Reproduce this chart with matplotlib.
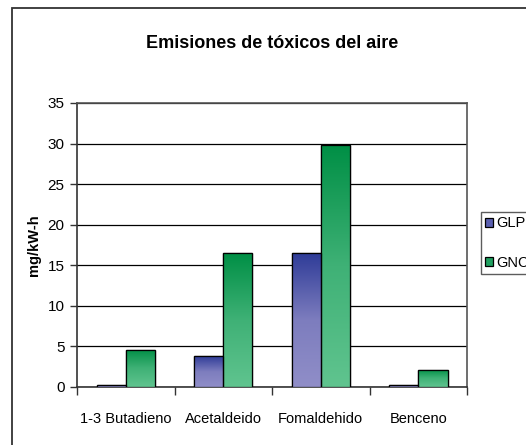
import numpy as np
import matplotlib
matplotlib.use("Agg")
import matplotlib.pyplot as plt
from matplotlib.colors import LinearSegmentedColormap
from matplotlib.patches import Rectangle

# datos
categorias = ["1-3 Butadieno", "Acetaldeido", "Fomaldehido", "Benceno"]
glp = [0.2, 3.8, 16.5, 0.2]
gnc = [4.6, 16.5, 29.8, 2.1]
series = ["GLP", "GNC"]

plt.rcParams["font.family"] = ["Liberation Sans", "DejaVu Sans"]

fig = plt.figure(figsize=(5.26, 4.45), dpi=100)
ax = fig.add_axes([77 / 526, 1 - 387 / 445, 390 / 526, 284 / 445])

# marco exterior del grafico (cortado a la derecha y abajo)
fig.patches.append(Rectangle((12 / 526, -0.05), 1.2, 1 - 8 / 445 + 0.05,
                             transform=fig.transFigure, fill=False,
                             edgecolor="#333333", linewidth=1.3))

cmap_glp = LinearSegmentedColormap.from_list("glp", ["#908ec8", "#7d7dbe", "#2f3c98"])
cmap_gnc = LinearSegmentedColormap.from_list("gnc", ["#60c48f", "#3fb176", "#008f45"])

x = np.arange(len(categorias))
w = 0.3
barras_glp = ax.bar(x - w / 2, glp, w, color="#5a5fb0", edgecolor="black", linewidth=0.9, label=series[0], zorder=3)
barras_gnc = ax.bar(x + w / 2, gnc, w, color="#1fa060", edgecolor="black", linewidth=0.9, label=series[1], zorder=3)

grad = np.linspace(0, 1, 256).reshape(-1, 1)
for barras, cmap in [(barras_glp, cmap_glp), (barras_gnc, cmap_gnc)]:
    for b in barras:
        x0, y0, bw, bh = b.get_x(), b.get_y(), b.get_width(), b.get_height()
        im = ax.imshow(grad, cmap=cmap, extent=[x0, x0 + bw, y0, y0 + bh],
                       origin="lower", aspect="auto", zorder=3.5)
        im.set_clip_path(b)
        ax.add_patch(Rectangle((x0, y0), bw, bh, fill=False, edgecolor="black", linewidth=0.9, zorder=4))

ax.set_xlim(-0.5, 3.5)
ax.set_ylim(0, 35)
ax.set_yticks(range(0, 36, 5))
ax.yaxis.grid(True, color="black", linewidth=0.9, zorder=1)
ax.set_axisbelow(True)

ax.set_xticks(x)
ax.set_xticklabels(categorias, fontsize=10.5)
ax.set_xticks(np.arange(-0.5, 4, 1), minor=True)
ax.tick_params(axis="x", which="major", length=0, pad=18)
ax.tick_params(axis="x", which="minor", length=6, width=1, color="#333333")
ax.tick_params(axis="y", length=5, width=1, pad=4, labelsize=11, color="#333333")

for lado in ["top", "right"]:
    ax.spines[lado].set_color("#555555")
    ax.spines[lado].set_linewidth(1.2)
for lado in ["left", "bottom"]:
    ax.spines[lado].set_color("#333333")
    ax.spines[lado].set_linewidth(1.2)

ax.set_ylabel("mg/kW-h", fontsize=10.5, fontweight="bold", labelpad=5)
fig.text(272 / 526, 1 - 43 / 445, "Emisiones de tóxicos del aire", fontsize=13,
         fontweight="bold", ha="center", va="center")

leg = fig.legend(handles=[barras_glp, barras_gnc], labels=series, loc="upper left",
                 bbox_to_anchor=(481 / 526, 1 - 212 / 445), fontsize=10.5,
                 frameon=True, fancybox=False, edgecolor="#333333",
                 handlelength=0.55, handleheight=0.55, handletextpad=0.2,
                 borderpad=0.3, labelspacing=1.75, borderaxespad=0)
leg.get_frame().set_linewidth(1.0)

fig.savefig("out.png", dpi=100)
